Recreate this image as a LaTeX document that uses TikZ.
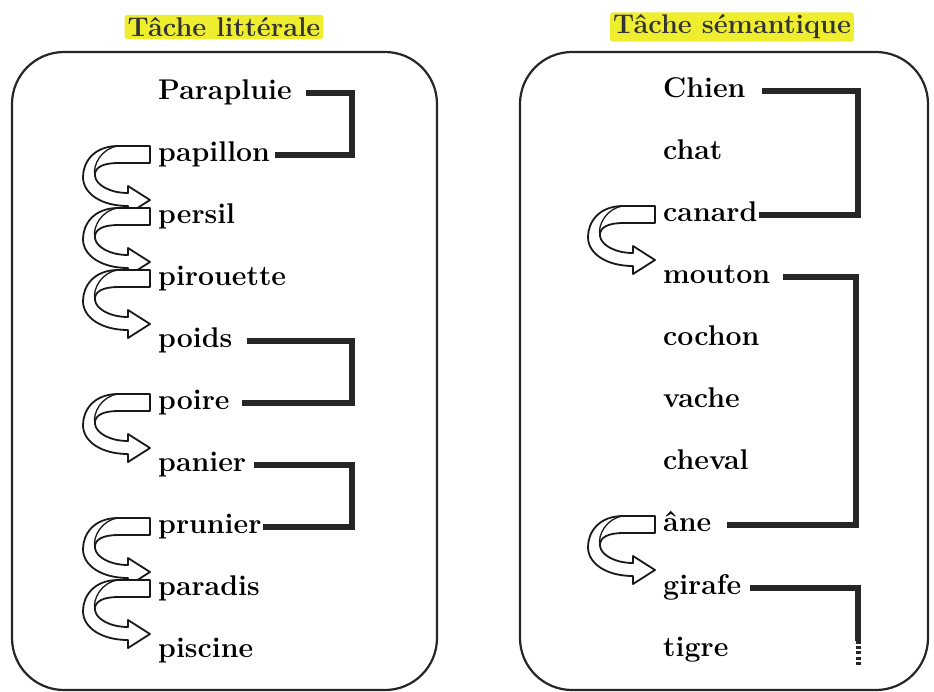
\documentclass[tikz,border=0pt]{standalone}
\begin{document}
\begin{tikzpicture}[x=1pt,y=-1pt,
  word/.style={anchor=west,inner sep=0pt,text height=20pt,text depth=8pt,
    font=\fontsize{28.5}{30}\selectfont\bfseries,text=black},
  title/.style={fill=hlyellow,inner xsep=3pt,inner ysep=2.5pt,rounded corners=3pt,
    font=\fontsize{27}{30}\selectfont\bfseries,text=black!80},
  panel/.style={draw=black!85,line width=2.2pt,rounded corners=52pt},
  bracket/.style={draw=black!85,line width=5.5pt,line join=miter},
  carr/.style={draw=black!90,fill=white,line width=1.8pt,line join=round}]
\definecolor{hlyellow}{HTML}{EEEE2E}
\useasboundingbox (0,0) rectangle (934,691);
\fill[white] (0,0) rectangle (934,691);

% titles
\node[title] (t1) at (224,27) {Tâche littérale};
\node[title] (t2) at (732,27) {Tâche sémantique};

% panels
\draw[panel] (12,52) rectangle (437,690);
\draw[panel] (520,52) rectangle (928,690);

% left words
\node[word] (L0) at (158,93) {Parapluie};
\node[word] (L1) at (158,155) {papillon};
\node[word] (L2) at (158,217) {persil};
\node[word] (L3) at (158,279) {pirouette};
\node[word] (L4) at (158,341) {poids};
\node[word] (L5) at (158,403) {poire};
\node[word] (L6) at (158,465) {panier};
\node[word] (L7) at (158,527) {prunier};
\node[word] (L8) at (158,589) {paradis};
\node[word] (L9) at (158,651) {piscine};

% right words
\node[word] (R0) at (663,91) {Chien};
\node[word] (R1) at (663,153) {chat};
\node[word] (R2) at (663,215) {canard};
\node[word] (R3) at (663,277) {mouton};
\node[word] (R4) at (663,339) {cochon};
\node[word] (R5) at (663,401) {vache};
\node[word] (R6) at (663,463) {cheval};
\node[word] (R7) at (663,525) {âne};
\node[word] (R8) at (663,588) {girafe};
\node[word] (R9) at (663,650) {tigre};

% bracket columns
\coordinate (xl) at (352,0);
\coordinate (xr) at (858,0);
\coordinate (gend) at (858,641);
\coordinate (gdot) at (858,666);

\draw[bracket] ([xshift=14pt]L0.east) -| (xl |- L1.east) -- ([xshift=5pt]L1.east);
\draw[bracket] ([xshift=14pt]L4.east) -| (xl |- L5.east) -- ([xshift=12pt]L5.east);
\draw[bracket] ([xshift=8pt]L6.east) -| (xl |- L7.east) -- ([xshift=1pt]L7.east);

\draw[bracket] ([xshift=16pt]R0.east) -| (xr |- R2.east) -- ([xshift=1pt]R2.east);
\draw[bracket] ([xshift=13pt]R3.east) -| ([xshift=-2pt]xr |- R7.east) -- ([xshift=16pt]R7.east);
\draw[bracket] ([xshift=8pt]R8.east) -| (gend);
\draw[bracket,line width=5pt,dash pattern=on 3pt off 2.2pt] (gend) -- (gdot);

% curved ribbon arrows
\newcommand\ribbonarrow[1]{%
  \begin{scope}[shift={(#1.west)}]
    \draw[carr] (-8,-9) -- (-40,-9)
      .. controls (-64,-9) and (-75,7) .. (-75,22)
      .. controls (-75,39) and (-56,51) .. (-30,51)
      -- (-30,59) -- (-8,45) -- (-30,31) -- (-30,38)
      .. controls (-48,38) and (-62,30) .. (-63,21)
      .. controls (-64,12) and (-54,8) .. (-40,8)
      -- (-8,8) -- cycle;
    \draw[black!90,line width=1.3pt] (-63,21) .. controls (-66,10) and (-56,-7) .. (-40,-9);
  \end{scope}}
\ribbonarrow{L1}
\ribbonarrow{L2}
\ribbonarrow{L3}
\ribbonarrow{L5}
\ribbonarrow{L7}
\ribbonarrow{L8}
\ribbonarrow{R2}
\ribbonarrow{R7}
\end{tikzpicture}
\end{document}
